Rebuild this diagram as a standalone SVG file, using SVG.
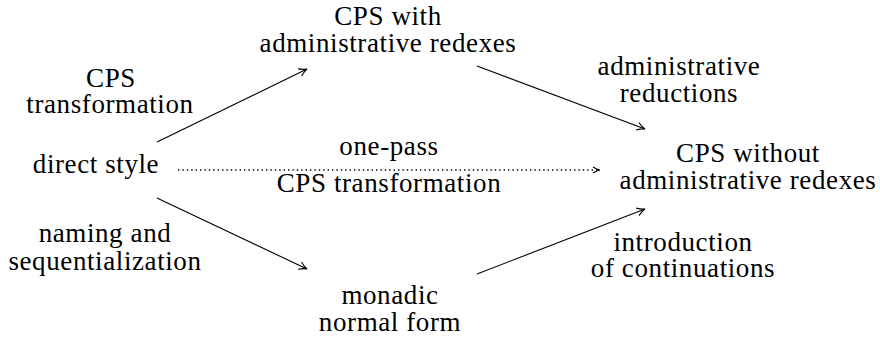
<svg xmlns="http://www.w3.org/2000/svg" width="880" height="338" viewBox="0 0 880 338">
  <style>
    text { font-family: "Liberation Serif", "Times New Roman", serif; font-size: 27px; fill: #000; text-anchor: middle; letter-spacing: 0.6px; }
    .edge { fill: none; stroke: #000; stroke-width: 1.1; }
    .dotted { stroke-width: 1.4; stroke-dasharray: 1.4 3; }
  </style>
  <defs>
    <!-- open "to"-style arrow tip -->
    <marker id="to" markerUnits="userSpaceOnUse" viewBox="-10 -6 12 12" markerWidth="12" markerHeight="12" refX="0" refY="0" orient="auto">
      <path d="M -8,-4 Q -3,-0.6 0,0 Q -3,0.6 -8,4" fill="none" stroke="#000" stroke-width="1.1"/>
    </marker>
  </defs>

  <rect width="880" height="338" fill="#fff"/>

  <!-- nodes -->
  <g id="direct-style">
    <text x="96" y="173">direct style</text>
  </g>
  <g id="cps-admin">
    <text x="388" y="25">CPS with</text>
    <text x="388" y="52">administrative redexes</text>
  </g>
  <g id="monadic">
    <text x="390" y="304">monadic</text>
    <text x="390" y="331">normal form</text>
  </g>
  <g id="cps-clean">
    <text x="748" y="162">CPS without</text>
    <text x="748" y="189">administrative redexes</text>
  </g>

  <!-- connectors -->
  <g id="connectors">
    <line class="edge" x1="157" y1="142" x2="307" y2="69" marker-end="url(#to)"/>
    <line class="edge" x1="157" y1="198" x2="307" y2="269" marker-end="url(#to)"/>
    <line class="edge" x1="477" y1="66" x2="645" y2="129" marker-end="url(#to)"/>
    <line class="edge" x1="477" y1="274" x2="645" y2="209" marker-end="url(#to)"/>
    <line class="edge dotted" x1="178" y1="170" x2="599" y2="170"/>
    <path class="edge" d="M 593,167 Q 597,169.5 600,170 Q 597,170.5 593,173"/>
  </g>

  <!-- edge labels -->
  <g id="labels">
    <text x="111" y="87">CPS</text>
    <text x="110" y="113">transformation</text>
    <text x="105" y="242">naming and</text>
    <text x="105" y="270">sequentialization</text>
    <text x="389" y="155">one-pass</text>
    <text x="389" y="192">CPS transformation</text>
    <text x="679" y="75">administrative</text>
    <text x="679" y="102">reductions</text>
    <text x="683" y="251">introduction</text>
    <text x="683" y="277">of continuations</text>
  </g>
</svg>
